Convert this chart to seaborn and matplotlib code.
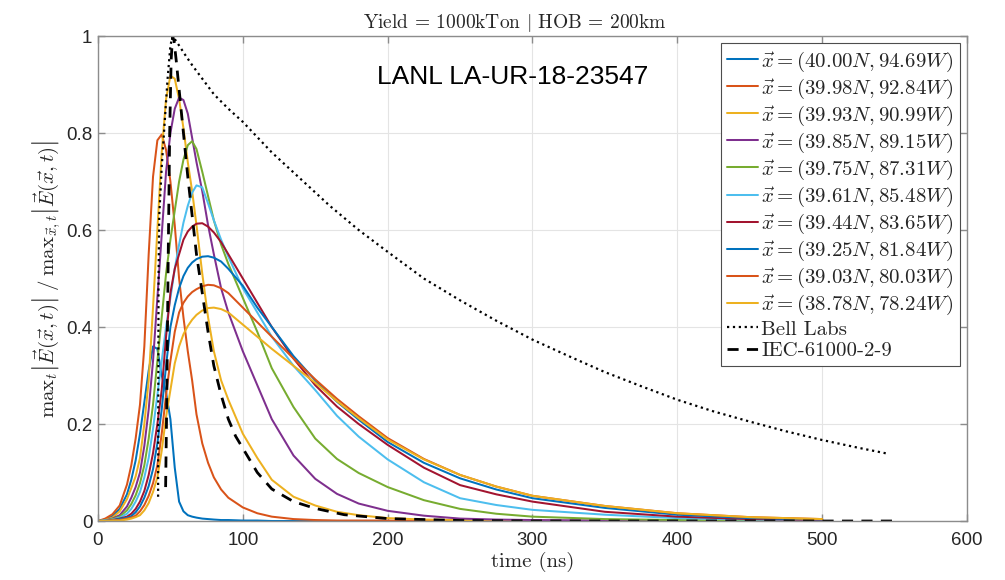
import matplotlib
matplotlib.use("Agg")
import matplotlib.pyplot as plt
import seaborn as sns

# --- data ---
time_ns = [0, 5, 10, 15, 20, 23, 26, 29, 32, 35, 38, 41, 44, 47, 50, 53, 56, 59, 62, 65,
           68, 72, 76, 80, 85, 90, 100, 110, 120, 135, 150, 165, 180, 200, 225, 250, 275,
           300, 350, 400, 450, 500]

loc_labels = [
    r'$\vec{x} = (40.00N, 94.69W)$',
    r'$\vec{x} = (39.98N, 92.84W)$',
    r'$\vec{x} = (39.93N, 90.99W)$',
    r'$\vec{x} = (39.85N, 89.15W)$',
    r'$\vec{x} = (39.75N, 87.31W)$',
    r'$\vec{x} = (39.61N, 85.48W)$',
    r'$\vec{x} = (39.44N, 83.65W)$',
    r'$\vec{x} = (39.25N, 81.84W)$',
    r'$\vec{x} = (39.03N, 80.03W)$',
    r'$\vec{x} = (38.78N, 78.24W)$',
]

pulse_01 = [0.0, 0.003, 0.01, 0.025, 0.055, 0.085, 0.125, 0.18, 0.245, 0.31, 0.36, 0.355, 0.30,
            0.265, 0.21, 0.11, 0.04, 0.02, 0.012, 0.009, 0.007, 0.005, 0.004, 0.003, 0.002,
            0.002, 0.001, 0.001, 0.0, 0.0, 0.0, 0.0, 0.0, 0.0, 0.0, 0.0, 0.0, 0.0, 0.0, 0.0,
            0.0, 0.0]
pulse_02 = [0.0, 0.005, 0.014, 0.032, 0.075, 0.115, 0.17, 0.24, 0.36, 0.55, 0.71, 0.785, 0.797,
            0.765, 0.70, 0.61, 0.50, 0.42, 0.35, 0.29, 0.22, 0.16, 0.12, 0.09, 0.065, 0.048,
            0.028, 0.016, 0.009, 0.004, 0.002, 0.001, 0.001, 0.001, 0.0, 0.0, 0.0, 0.0, 0.0,
            0.0, 0.0, 0.0]
pulse_03 = [0.0, 0.002, 0.007, 0.02, 0.045, 0.068, 0.092, 0.13, 0.2, 0.29, 0.44, 0.6, 0.76,
            0.87, 0.918, 0.912, 0.87, 0.81, 0.74, 0.68, 0.61, 0.51, 0.42, 0.35, 0.29, 0.25,
            0.18, 0.13, 0.085, 0.05, 0.032, 0.019, 0.012, 0.006, 0.003, 0.002, 0.001, 0.001,
            0.0, 0.0, 0.0, 0.0]
pulse_04 = [0.0, 0.001, 0.005, 0.012, 0.03, 0.048, 0.07, 0.1, 0.155, 0.23, 0.33, 0.46, 0.59,
            0.72, 0.8, 0.85, 0.873, 0.868, 0.84, 0.79, 0.74, 0.68, 0.61, 0.55, 0.48, 0.43,
            0.35, 0.28, 0.21, 0.135, 0.087, 0.056, 0.036, 0.021, 0.011, 0.005, 0.003, 0.002,
            0.001, 0.0, 0.0, 0.0]
pulse_05 = [0.0, 0.001, 0.004, 0.009, 0.022, 0.035, 0.053, 0.078, 0.115, 0.17, 0.24, 0.33, 0.42,
            0.51, 0.58, 0.64, 0.70, 0.745, 0.775, 0.783, 0.767, 0.72, 0.67, 0.62, 0.57, 0.53,
            0.46, 0.39, 0.315, 0.235, 0.17, 0.128, 0.099, 0.07, 0.043, 0.025, 0.015, 0.009,
            0.004, 0.002, 0.001, 0.001]
pulse_06 = [0.0, 0.001, 0.003, 0.007, 0.015, 0.025, 0.04, 0.06, 0.09, 0.13, 0.19, 0.26, 0.33,
            0.4, 0.46, 0.52, 0.57, 0.615, 0.65, 0.677, 0.692, 0.688, 0.655, 0.62, 0.58, 0.545,
            0.48, 0.43, 0.38, 0.32, 0.27, 0.217, 0.174, 0.127, 0.08, 0.047, 0.033, 0.023,
            0.013, 0.006, 0.003, 0.001]
pulse_07 = [0.0, 0.0, 0.002, 0.005, 0.009, 0.015, 0.025, 0.04, 0.062, 0.095, 0.14, 0.2, 0.27,
            0.38, 0.47, 0.52, 0.55, 0.58, 0.597, 0.607, 0.613, 0.614, 0.607, 0.595, 0.575, 0.55,
            0.5, 0.45, 0.4, 0.335, 0.28, 0.236, 0.2, 0.157, 0.11, 0.074, 0.055, 0.04, 0.019,
            0.009, 0.004, 0.002]
pulse_08 = [0.0, 0.0, 0.001, 0.004, 0.007, 0.01, 0.018, 0.03, 0.048, 0.072, 0.107, 0.16, 0.23,
            0.32, 0.4, 0.445, 0.48, 0.505, 0.522, 0.533, 0.54, 0.545, 0.546, 0.543, 0.535, 0.52,
            0.485, 0.44, 0.4, 0.34, 0.29, 0.246, 0.209, 0.163, 0.12, 0.088, 0.065, 0.047,
            0.027, 0.013, 0.006, 0.003]
pulse_09 = [0.0, 0.0, 0.001, 0.002, 0.005, 0.007, 0.011, 0.02, 0.033, 0.052, 0.078, 0.115, 0.18,
            0.26, 0.33, 0.39, 0.43, 0.45, 0.463, 0.472, 0.478, 0.484, 0.487, 0.486, 0.48, 0.47,
            0.44, 0.41, 0.38, 0.335, 0.292, 0.252, 0.216, 0.171, 0.128, 0.095, 0.071, 0.052,
            0.031, 0.016, 0.008, 0.004]
pulse_10 = [0.0, 0.0, 0.001, 0.001, 0.003, 0.005, 0.008, 0.012, 0.022, 0.037, 0.06, 0.09, 0.145,
            0.215, 0.27, 0.325, 0.36, 0.385, 0.402, 0.415, 0.425, 0.434, 0.439, 0.44, 0.437,
            0.43, 0.405, 0.38, 0.355, 0.32, 0.285, 0.247, 0.212, 0.168, 0.127, 0.095, 0.071,
            0.052, 0.031, 0.016, 0.008, 0.004]

bell_time = [41.5, 41.8, 42.3, 44, 46, 48, 50, 51.5, 55, 60, 65, 70, 80, 90, 100, 120, 140, 160,
             180, 200, 225, 250, 275, 300, 325, 350, 375, 400, 425, 450, 475, 500, 525, 545]
bell_value = [0.05, 0.5, 0.63, 0.73, 0.82, 0.91, 0.98, 1.0, 0.985, 0.962, 0.94, 0.92, 0.88, 0.85,
              0.823, 0.76, 0.705, 0.65, 0.60, 0.555, 0.5, 0.455, 0.413, 0.374, 0.34, 0.307,
              0.278, 0.25, 0.226, 0.205, 0.185, 0.167, 0.151, 0.139]

iec_time = [46.7, 47.5, 48.5, 49.5, 50.5, 51.5, 52.5, 54, 56, 58, 60, 62, 65, 68, 72, 76, 80, 85,
            90, 95, 100, 110, 120, 135, 150, 170, 200, 250, 300, 400, 550]
iec_value = [0.07, 0.25, 0.55, 0.8, 0.95, 1.0, 0.99, 0.95, 0.89, 0.83, 0.77, 0.71, 0.63, 0.55,
             0.47, 0.39, 0.32, 0.26, 0.21, 0.175, 0.15, 0.1, 0.066, 0.04, 0.026, 0.013, 0.005,
             0.001, 0.0, 0.0, 0.0]

pulses = [pulse_01, pulse_02, pulse_03, pulse_04, pulse_05,
          pulse_06, pulse_07, pulse_08, pulse_09, pulse_10]

# matlab default line colours
line_colors = ['#0072BD', '#D95319', '#EDB120', '#7E2F8E', '#77AC30',
               '#4DBEEE', '#A2142F', '#0072BD', '#D95319', '#EDB120']

sns.set_style("whitegrid")
plt.rcParams['font.family'] = ['Liberation Sans', 'DejaVu Sans']
plt.rcParams['mathtext.fontset'] = 'cm'

fig = plt.figure(figsize=(10.05, 5.8), dpi=100)
ax = fig.add_axes([0.0975, 0.1017, 0.8647, 0.8362])

for vals, lab, col in zip(pulses, loc_labels, line_colors):
    sns.lineplot(x=time_ns, y=vals, color=col, linewidth=1.45, label=lab, ax=ax,
                 estimator=None)
sns.lineplot(x=bell_time, y=bell_value, color='black', linewidth=1.6, linestyle=':',
             label='Bell Labs', ax=ax, estimator=None)
sns.lineplot(x=iec_time, y=iec_value, color='black', linewidth=2.0, linestyle=(0, (4, 3)),
             label='IEC-61000-2-9', ax=ax, estimator=None)

ax.set_xlim(0, 600)
ax.set_ylim(0, 1)
ax.set_xticks([0, 100, 200, 300, 400, 500, 600])
ax.set_yticks([0, 0.2, 0.4, 0.6, 0.8, 1.0])
ax.yaxis.set_major_formatter(plt.FuncFormatter(lambda v, p: '%g' % v))

ax.set_axisbelow(True)
ax.grid(True, color='#e4e4e4', linewidth=0.8)
for sp in ax.spines.values():
    sp.set_color('#8c8c8c')
    sp.set_linewidth(1.0)
ax.tick_params(direction='in', length=5, width=1, color='#8c8c8c', top=True, right=True,
               bottom=True, left=True, labelsize=13.5, labelcolor='#262626')
ax.tick_params(axis='x', pad=8)
ax.tick_params(axis='y', pad=4)

ax.set_title('Yield = 1000kTon $|$ HOB = 200km', fontfamily='cmr10', fontsize=14,
             color='#262626', x=0.48, pad=6)
ax.set_xlabel('time (ns)', fontfamily='cmr10', fontsize=15, color='#262626', labelpad=2)
ax.set_ylabel(r'$\mathrm{max}_t \left|\vec{E}(\vec{x},t)\right| \;/\; '
              r'\mathrm{max}_{\vec{x},t} \left|\vec{E}(\vec{x},t)\right|$',
              fontsize=15, color='#262626', labelpad=2)

ax.text(286, 0.915, 'LANL LA-UR-18-23547', ha='center', va='center', fontsize=19,
        color='black')

leg = ax.legend(loc='upper right', prop={'family': 'cmr10', 'size': 15}, fancybox=False,
                framealpha=1, edgecolor='#4d4d4d', borderaxespad=0.35, borderpad=0.3,
                labelspacing=0.14, handlelength=1.5, handletextpad=0.15)
leg.get_frame().set_linewidth(0.8)

fig.savefig('out.png', dpi=100)
